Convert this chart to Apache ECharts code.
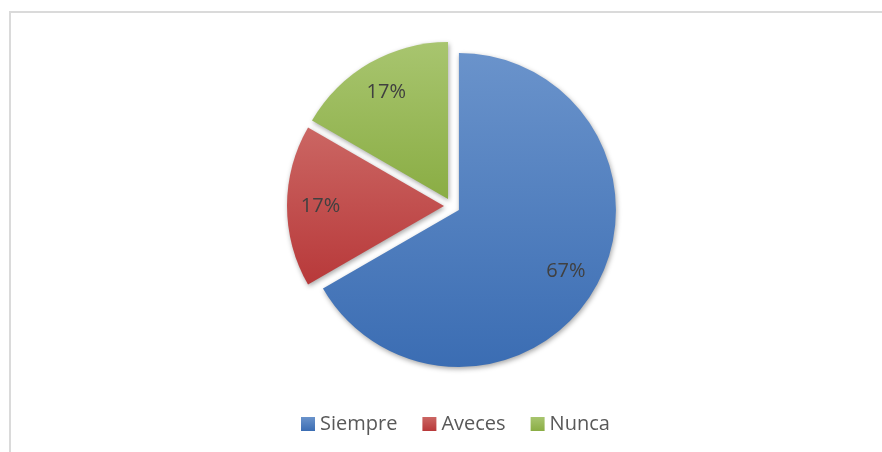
<!DOCTYPE html>
<html>
<head>
<meta charset="utf-8">
<script src="https://cdn.jsdelivr.net/npm/echarts@6/dist/echarts.min.js"></script>
<style>
  html, body { margin: 0; padding: 0; background: #fff; }
  #main { width: 882px; height: 452px; position: relative; }
  #frame {
    position: absolute; left: 9px; top: 11px; right: -2px; bottom: -2px;
    border: 2px solid #dadada; pointer-events: none;
  }
</style>
</head>
<body>
<div id="main"></div>
<div id="frame"></div>
<script>
// answers to the survey question
const categories = ['Siempre', 'Aveces', 'Nunca'];
const counts = [4, 1, 1];
const colorsTop = ['#6a93cb', '#cb6663', '#a8c56f'];
const colorsBottom = ['#3b6db3', '#b8393a', '#8aad44'];

const total = counts.reduce((a, b) => a + b, 0);
const FONT = 'Open Sans';

const chart = echarts.init(document.getElementById('main'));

const slices = categories.map((name, i) => ({
  name,
  value: counts[i],
  selected: true,
  itemStyle: {
    color: new echarts.graphic.LinearGradient(0, 0, 0, 1, [
      { offset: 0, color: colorsTop[i] },
      { offset: 1, color: colorsBottom[i] },
    ]),
  },
}));

const common = {
  type: 'pie',
  center: [452, 206],
  startAngle: 90,
  clockwise: true,
  selectedMode: 'multiple',
  selectedOffset: 8,
  emphasis: { disabled: true },
  animation: false,
};

chart.setOption({
  color: colorsBottom,
  legend: {
    bottom: 13,
    left: 296,
    icon: 'rect',
    itemWidth: 14,
    itemHeight: 14,
    itemGap: 25,
    selectedMode: false,
    textStyle: { fontFamily: FONT, fontSize: 20, color: '#595959' },
    data: categories,
  },
  series: [
    {
      ...common,
      radius: [0, 157],
      itemStyle: {
        shadowBlur: 5,
        shadowColor: 'rgba(0,0,0,0.35)',
        shadowOffsetX: 1,
        shadowOffsetY: 2,
      },
      label: { show: false },
      labelLine: { show: false },
      data: slices,
    },
    {
      // transparent ring only used to place labels further out
      ...common,
      silent: true,
      radius: [84, 157],
      itemStyle: { color: 'transparent' },
      label: {
        show: true,
        position: 'inside',
        fontFamily: FONT,
        fontSize: 20,
        color: '#404040',
        formatter: p => Math.round(p.value / total * 100) + '%',
      },
      labelLine: { show: false },
      data: categories.map((name, i) => ({
        name, value: counts[i], selected: true,
        itemStyle: { color: 'transparent' },
      })),
    },
  ],
});
</script>
</body>
</html>
